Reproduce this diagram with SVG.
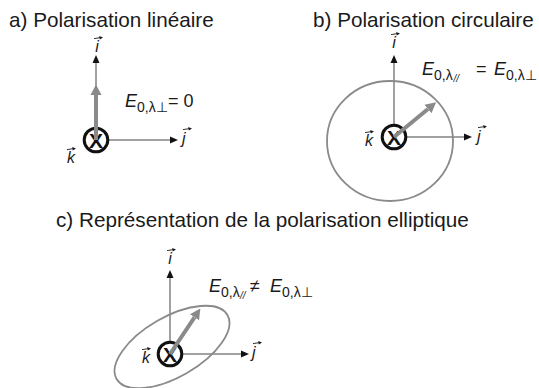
<svg xmlns="http://www.w3.org/2000/svg" xmlns:xlink="http://www.w3.org/1999/xlink" width="539" height="388" viewBox="0 0 539 388">
  <style>
    .title { font-family: "Liberation Sans", Arial, sans-serif; font-size: 20.7px; fill: #1a1a1a; }
    .vl { font-family: "Liberation Sans", Arial, sans-serif; font-size: 16px; font-style: italic; fill: #1a1a1a; }
    .eq { font-family: "Liberation Sans", Arial, sans-serif; font-size: 18px; fill: #1a1a1a; }
    .E { font-style: italic; }
    .sub { font-size: 14px; }
    .subsub { font-size: 10px; font-style: italic; }
    .axis { stroke: #444; stroke-width: 1; fill: none; marker-end: url(#axhead); }
    .pol { stroke: #8a8a8a; stroke-width: 4; fill: none; marker-end: url(#polhead); }
    .orbit { stroke: #8a8a8a; stroke-width: 1.8; fill: none; }
    .kring { stroke: #111; stroke-width: 3; fill: #fff; }
    .kx { font-family: "Liberation Sans", Arial, sans-serif; font-size: 21px; font-weight: bold; fill: #111; text-anchor: middle; }
  </style>
  <defs>
    <marker id="axhead" markerUnits="userSpaceOnUse" markerWidth="9" markerHeight="8" viewBox="0 -4 8 8" refX="0" refY="0" orient="auto">
      <path d="M0,-3.5 L8,0 L0,3.5 Z" fill="#111"/>
    </marker>
    <marker id="polhead" markerUnits="userSpaceOnUse" markerWidth="11" markerHeight="12" viewBox="0 -6 11 12" refX="0" refY="0" orient="auto">
      <path d="M0,-5.5 L10.5,0 L0,5.5 Z" fill="#8a8a8a"/>
    </marker>
    <symbol id="vec" overflow="visible">
      <path d="M0,0.6 L6,-0.3" stroke="#1a1a1a" stroke-width="0.9" fill="none"/>
      <path d="M5.2,-2 L9,-0.6 L5.8,1.4 Z" fill="#1a1a1a"/>
    </symbol>
  </defs>

  <!-- Titles -->
  <g id="title-a"><text class="title" x="9" y="27">a) Polarisation linéaire</text></g>
  <g id="title-b"><text class="title" x="313" y="27">b) Polarisation circulaire</text></g>
  <g id="title-c"><text class="title" x="56" y="227">c) Représentation de la polarisation elliptique</text></g>

  <!-- Connectors (axes) -->
  <g id="connectors">
    <line class="axis" x1="96" y1="140" x2="96" y2="63"/>
    <line class="axis" x1="96" y1="140" x2="170" y2="140"/>
    <line class="axis" x1="394" y1="137" x2="394" y2="63"/>
    <line class="axis" x1="394" y1="137" x2="464" y2="137"/>
    <line class="axis" x1="170" y1="354" x2="170" y2="278"/>
    <line class="axis" x1="170" y1="354" x2="241" y2="354"/>
  </g>

  <!-- Panel a -->
  <g id="panel-a">
    <g id="a-k"><circle class="kring" cx="96" cy="140" r="11.8"/><text class="kx" x="96" y="147.5">X</text></g>
    <line class="pol" x1="96" y1="140" x2="96" y2="95"/>
    <g id="a-i"><text class="vl" x="97" y="52" text-anchor="middle">i</text><use xlink:href="#vec" x="94" y="38"/></g>
    <g id="a-j"><text class="vl" x="182" y="144">j</text><use xlink:href="#vec" x="183" y="129"/></g>
    <g id="a-klabel"><text class="vl" x="67" y="163">k</text><use xlink:href="#vec" x="67" y="149"/></g>
    <g id="a-eq"><text class="eq"><tspan class="E" x="125" y="107">E</tspan><tspan class="sub" x="137" y="112">0,λ⊥</tspan><tspan x="168" y="107">= 0</tspan></text></g>
  </g>

  <!-- Panel b -->
  <g id="panel-b">
    <ellipse class="orbit" cx="390" cy="141" rx="63" ry="60"/>
    <g id="b-k"><circle class="kring" cx="394" cy="137" r="11.8"/><text class="kx" x="394" y="144.5">X</text></g>
    <line class="pol" x1="394" y1="137" x2="428" y2="109"/>
    <g id="b-i"><text class="vl" x="394" y="48" text-anchor="middle">i</text><use xlink:href="#vec" x="391" y="34"/></g>
    <g id="b-j"><text class="vl" x="477" y="142">j</text><use xlink:href="#vec" x="478" y="127"/></g>
    <g id="b-klabel"><text class="vl" x="365" y="146">k</text><use xlink:href="#vec" x="365" y="132"/></g>
    <g id="b-eq"><text class="eq"><tspan class="E" x="422" y="75">E</tspan><tspan class="sub" x="434" y="80">0,λ</tspan><tspan class="subsub" x="453.5" y="82">//</tspan><tspan x="476" y="75">=</tspan><tspan class="E" x="494" y="75">E</tspan><tspan class="sub" x="506" y="80">0,λ⊥</tspan></text></g>
  </g>

  <!-- Panel c -->
  <g id="panel-c">
    <ellipse class="orbit" cx="172" cy="347" rx="64" ry="30" transform="rotate(-30 172 347)"/>
    <g id="c-k"><circle class="kring" cx="170" cy="354" r="11.8"/><text class="kx" x="170" y="361.5">X</text></g>
    <line class="pol" x1="170" y1="354" x2="194.5" y2="317.3"/>
    <g id="c-i"><text class="vl" x="170" y="264" text-anchor="middle">i</text><use xlink:href="#vec" x="167" y="250"/></g>
    <g id="c-j"><text class="vl" x="252" y="358">j</text><use xlink:href="#vec" x="253" y="343"/></g>
    <g id="c-klabel"><text class="vl" x="142" y="363">k</text><use xlink:href="#vec" x="142" y="349"/></g>
    <g id="c-eq"><text class="eq"><tspan class="E" x="209" y="292">E</tspan><tspan class="sub" x="221" y="297">0,λ</tspan><tspan class="subsub" x="240" y="299">//</tspan><tspan x="250" y="292">≠</tspan><tspan class="E" x="270" y="292">E</tspan><tspan class="sub" x="282" y="297">0,λ⊥</tspan></text></g>
  </g>
</svg>
